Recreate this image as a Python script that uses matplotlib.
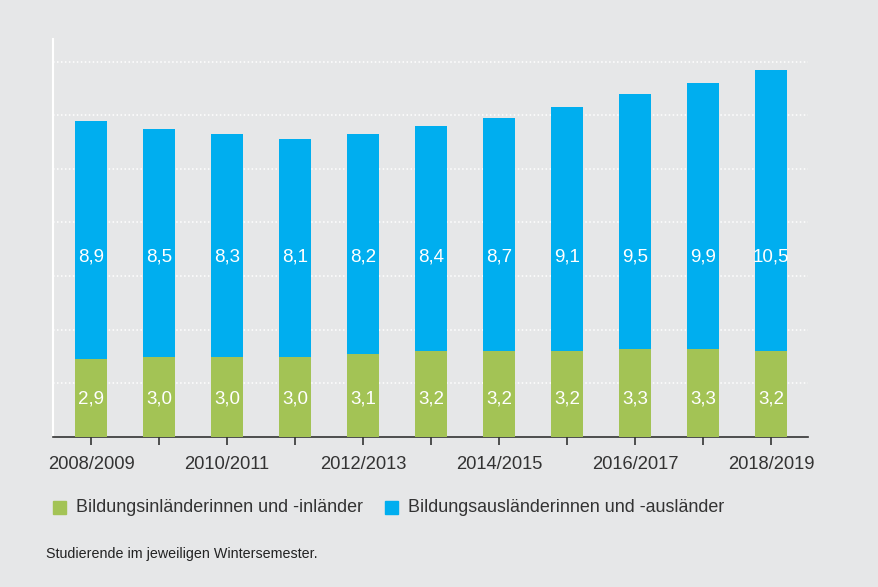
import matplotlib.pyplot as plt
import numpy as np

# --- Data ---
semesters = ['2008/2009', '2009/2010', '2010/2011', '2011/2012', '2012/2013', '2013/2014',
             '2014/2015', '2015/2016', '2016/2017', '2017/2018', '2018/2019']
inlaender = [2.9, 3.0, 3.0, 3.0, 3.1, 3.2, 3.2, 3.2, 3.3, 3.3, 3.2]
auslaender = [8.9, 8.5, 8.3, 8.1, 8.2, 8.4, 8.7, 9.1, 9.5, 9.9, 10.5]
legend_labels = ['Bildungsinländerinnen und -inländer', 'Bildungsausländerinnen und -ausländer']
note = 'Studierende im jeweiligen Wintersemester.'

green = '#a3c355'
blue = '#00aeef'
bg = '#e6e7e8'

plt.rcParams['font.family'] = ['Liberation Sans', 'DejaVu Sans']

fig = plt.figure(figsize=(8.79, 5.87), dpi=100, facecolor=bg)
ax = fig.add_axes([0.0603, 0.2555, 0.8587, 0.6785], facecolor=bg)

x = np.arange(len(semesters))
ax.bar(x, inlaender, width=0.46, color=green, zorder=3)
ax.bar(x, auslaender, width=0.46, bottom=inlaender, color=blue, zorder=3)

def fmt(v):
    return f'{v:.1f}'.replace('.', ',')

for xi, g, b in zip(x, inlaender, auslaender):
    ax.text(xi, 1.42, fmt(g), ha='center', va='center', color='white', fontsize=13.5, zorder=4)
    ax.text(xi, 6.7, fmt(b), ha='center', va='center', color='white', fontsize=13.5, zorder=4)

ax.set_xlim(-0.56, 10.54)
ax.set_ylim(0, 14.85)
ax.set_yticks(np.arange(2, 15, 2))
ax.set_yticklabels([])
ax.tick_params(axis='y', length=0)
ax.grid(axis='y', color='white', linestyle=(0, (1, 1.6)), linewidth=1.1, zorder=1)

ax.set_xticks(x)
ax.set_xticklabels([s if i % 2 == 0 else '' for i, s in enumerate(semesters)],
                   fontsize=13.2, color='#333333')
ax.tick_params(axis='x', length=6, width=1.2, color='#333333', pad=8)

for side in ['top', 'right']:
    ax.spines[side].set_visible(False)
ax.spines['left'].set_color('white')
ax.spines['left'].set_linewidth(1.5)
ax.spines['bottom'].set_color('#333333')
ax.spines['bottom'].set_linewidth(1.2)

# legend
fig.patches.append(plt.Rectangle((53 / 879, 1 - 514 / 587), 13 / 879, 13 / 587,
                                 transform=fig.transFigure, color=green))
fig.text(76 / 879, 1 - 507 / 587, legend_labels[0], fontsize=12.85, color='#333333', va='center')
fig.patches.append(plt.Rectangle((385 / 879, 1 - 514 / 587), 13 / 879, 13 / 587,
                                 transform=fig.transFigure, color=blue))
fig.text(408 / 879, 1 - 507 / 587, legend_labels[1], fontsize=12.85, color='#333333', va='center')

fig.text(46 / 879, 1 - 554 / 587, note, fontsize=10.3, color='#222222', va='center')

plt.savefig('out.png', dpi=100, facecolor=bg)
